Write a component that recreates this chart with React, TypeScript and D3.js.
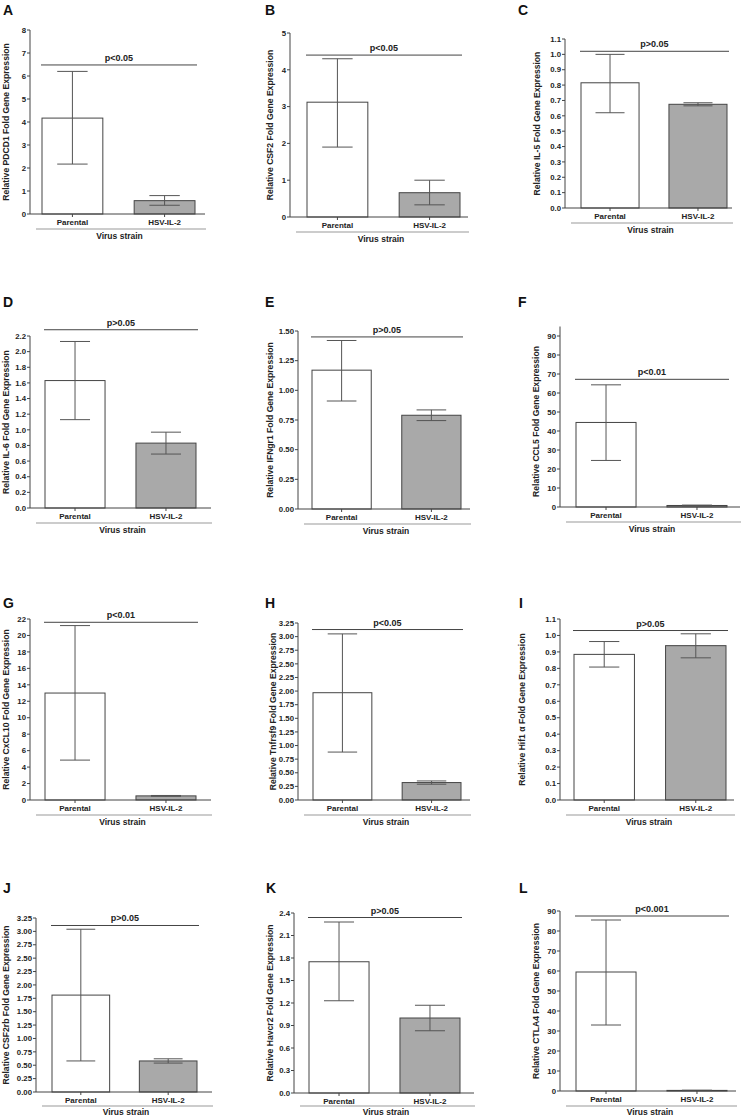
import * as d3 from "d3";

const groups = ["Parental", "HSV-IL-2"];
const letters = ["A", "B", "C", "D", "E", "F", "G", "H", "I", "J", "K", "L"];
const genes = [
  "PDCD1", "CSF2", "IL-5", "IL-6", "IFNgr1", "CCL5",
  "CxCL10", "Tnfrsf9", "Hif1 α", "CSF2rb", "Havcr2", "CTLA4",
];

// tick setup
const tickMax = [8, 5, 1.1, 2.2, 1.5, 90, 22, 3.25, 1.1, 3.25, 2.4, 90];
const tickStep = [1, 1, 0.1, 0.2, 0.25, 10, 2, 0.25, 0.1, 0.25, 0.3, 10];
const tickDecimals = [0, 0, 1, 1, 2, 0, 0, 2, 1, 2, 1, 0];
const axisMax = [8, 5, 1.1, 2.2, 1.5, 95, 22, 3.25, 1.1, 3.25, 2.4, 90];

// means and error bar ends
const parentalMean = [4.17, 3.12, 0.815, 1.63, 1.17, 44.5, 13.0, 1.97, 0.885, 1.81, 1.75, 59.5];
const parentalLow = [2.17, 1.9, 0.62, 1.13, 0.91, 24.5, 4.85, 0.88, 0.808, 0.58, 1.23, 33];
const parentalHigh = [6.2, 4.3, 1.0, 2.13, 1.42, 64.3, 21.2, 3.05, 0.963, 3.04, 2.28, 85.5];
const hsvMean = [0.58, 0.66, 0.675, 0.83, 0.79, 0.8, 0.5, 0.32, 0.938, 0.58, 1.0, 0.3];
const hsvLow = [0.38, 0.33, 0.665, 0.69, 0.745, 0.6, 0.45, 0.29, 0.864, 0.54, 0.83, 0.2];
const hsvHigh = [0.8, 1.0, 0.685, 0.97, 0.835, 1.0, 0.55, 0.35, 1.01, 0.62, 1.17, 0.4];

const pLabels = [
  "p<0.05", "p<0.05", "p>0.05", "p>0.05", "p>0.05", "p<0.01",
  "p<0.01", "p<0.05", "p>0.05", "p>0.05", "p>0.05", "p<0.001",
];
const pLevel = [6.48, 4.4, 1.02, 2.28, 1.45, 67.2, 21.6, 3.13, 1.03, 3.11, 2.34, 87.5];

// panel geometry (pixels)
const geom = [
  { ax: 30, end: 205, top: 30, bot: 214, b0: 42, b1: 195, tx: 6 },
  { ax: 290, end: 468, top: 33, bot: 217, b0: 307, b1: 460, tx: 270 },
  { ax: 565, end: 732, top: 39, bot: 208, b0: 581, b1: 727, tx: 537 },
  { ax: 30, end: 211, top: 336, bot: 508, b0: 45, b1: 196, tx: 6 },
  { ax: 298, end: 470, top: 331, bot: 509, b0: 312, b1: 461, tx: 270 },
  { ax: 560, end: 740, top: 336, bot: 507, b0: 576, b1: 727, tx: 536 },
  { ax: 30, end: 211, top: 619, bot: 800, b0: 45, b1: 196, tx: 6 },
  { ax: 298, end: 470, top: 623, bot: 800, b0: 313, b1: 461, tx: 273 },
  { ax: 560, end: 734, top: 619, bot: 800, b0: 574, b1: 726, tx: 522 },
  { ax: 36, end: 212, top: 918, bot: 1092, b0: 52, b1: 197, tx: 6 },
  { ax: 294, end: 474, top: 913, bot: 1093, b0: 309, b1: 460, tx: 270 },
  { ax: 560, end: 736, top: 911, bot: 1091, b0: 576, b1: 727, tx: 536 },
];
const letterPos = [
  [3, 14.5], [265, 14.5], [518, 15],
  [3, 307], [265, 307], [518, 307],
  [3, 608], [265, 608], [519, 608],
  [3, 893], [266, 893], [519, 893],
];

const FONT = "'Liberation Sans', Arial, sans-serif";
const DARK = "#444";

function Panel({ i }: { i: number }) {
  const g = geom[i];
  const y = d3.scaleLinear().domain([0, tickMax[i]]).range([g.bot, g.top]);
  const x = d3.scaleBand<string>().domain(groups).range([g.b0, g.b1]).paddingInner(0.34);
  const bw = x.bandwidth();
  const ticks = d3.range(0, tickMax[i] + tickStep[i] / 2, tickStep[i]);
  const fmt = d3.format(`.${tickDecimals[i]}f`);
  const bars = [
    { key: groups[0], mean: parentalMean[i], lo: parentalLow[i], hi: parentalHigh[i], fill: "#ffffff" },
    { key: groups[1], mean: hsvMean[i], lo: hsvLow[i], hi: hsvHigh[i], fill: "#a9a9a9" },
  ];
  const [lx, ly] = letterPos[i];
  const midY = (g.top + g.bot) / 2;
  const sigX0 = g.b0 - 1;
  const sigX1 = g.b1 + 2;
  const groupY = Math.min(g.bot + 15, 1106);
  const groupTextY = Math.min(g.bot + 25, 1115);

  return (
    <g fontFamily={FONT}>
      <text x={lx} y={ly} fontSize={14} fontWeight="bold" fill="#111">
        {letters[i]}
      </text>

      {/* y axis */}
      <line x1={g.ax} x2={g.ax} y1={g.bot} y2={y(axisMax[i])} stroke={DARK} />
      {ticks.map((t) => (
        <g key={t}>
          <line x1={g.ax - 3} x2={g.ax} y1={y(t)} y2={y(t)} stroke={DARK} />
          <text x={g.ax - 4} y={y(t)} dy="0.35em" textAnchor="end" fontSize={7.8} fontWeight="bold" fill="#222">
            {fmt(t)}
          </text>
        </g>
      ))}
      <text
        transform={`translate(${g.tx},${midY}) rotate(-90)`}
        textAnchor="middle"
        dy="0.35em"
        fontSize={8.6}
        fontWeight="bold"
        fill="#222"
      >
        {`Relative ${genes[i]} Fold Gene Expression`}
      </text>

      {/* bars */}
      {bars.map((b) => {
        const cx = x(b.key)! + bw / 2;
        return (
          <g key={b.key}>
            <rect
              x={x(b.key)}
              y={y(b.mean)}
              width={bw}
              height={y(0) - y(b.mean)}
              fill={b.fill}
              stroke={DARK}
              strokeWidth={1}
            />
            <line x1={cx} x2={cx} y1={y(b.lo)} y2={y(b.hi)} stroke="#555" />
            <line x1={cx - bw * 0.25} x2={cx + bw * 0.25} y1={y(b.hi)} y2={y(b.hi)} stroke="#555" />
            <line x1={cx - bw * 0.25} x2={cx + bw * 0.25} y1={y(b.lo)} y2={y(b.lo)} stroke="#555" />
            <line x1={cx} x2={cx} y1={g.bot} y2={g.bot + 3} stroke={DARK} />
            <text x={cx} y={g.bot + 10.5} textAnchor="middle" fontSize={8} fontWeight="bold" fill="#222">
              {b.key}
            </text>
          </g>
        );
      })}

      {/* x axis */}
      <line x1={g.ax} x2={g.end} y1={g.bot} y2={g.bot} stroke={DARK} />

      {/* significance */}
      <line x1={sigX0} x2={sigX1} y1={y(pLevel[i])} y2={y(pLevel[i])} stroke={DARK} />
      <text
        x={(sigX0 + sigX1) / 2}
        y={y(pLevel[i]) - 4}
        textAnchor="middle"
        fontSize={9}
        fontWeight="bold"
        fill="#222"
      >
        {pLabels[i]}
      </text>

      {/* group line */}
      <line x1={g.ax + 6} x2={g.end + 1} y1={groupY} y2={groupY} stroke="#999" />
      <text
        x={(g.ax + g.end) / 2 + 2}
        y={groupTextY}
        textAnchor="middle"
        fontSize={8.5}
        fontWeight="bold"
        fill="#222"
      >
        Virus strain
      </text>
    </g>
  );
}

export default function App() {
  return (
    <svg
      width={747}
      height={1118}
      style={{ position: "absolute", left: 0, top: 0, background: "#fff" }}
    >
      <rect width={747} height={1118} fill="#fff" />
      {letters.map((_, i) => (
        <Panel key={i} i={i} />
      ))}
    </svg>
  );
}
